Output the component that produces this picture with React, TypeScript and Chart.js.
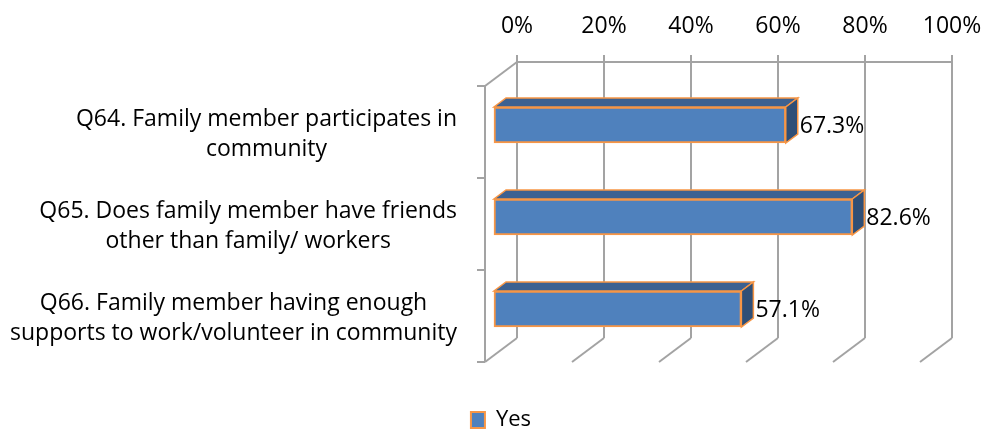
import React, { useEffect, useRef } from 'react';
import { Chart, registerables } from 'chart.js';

Chart.register(...registerables);

// ---- data ----
const categories: string[][] = [
  ['Q64. Family member participates in', 'community'],
  ['Q65. Does family member have friends', 'other than family/ workers'],
  ['Q66. Family member having enough', 'supports to work/volunteer in community'],
];
const seriesName = 'Yes';
const yesValues = [67.3, 82.6, 57.1];
const axisMin = 0;
const axisMax = 100;
const axisStep = 20;

// ---- style ----
const FONT = '"Open Sans"';
const FONT_SIZE = 23;
const GRID = '#a3a3a3';
const BAR_FRONT = '#4f81bd';
const BAR_TOP = '#3c6191';
const BAR_SIDE = '#2f4f77';
const BAR_EDGE = '#f79646';
const DEPTH_X = -32;
const DEPTH_Y = 24;
const BAR_SHIFT_X = -24;
const BAR_SHIFT_Y = 17;
const BAR_DEPTH_X = 12;
const BAR_DEPTH_Y = -9;

function line(ctx: CanvasRenderingContext2D, x1: number, y1: number, x2: number, y2: number) {
  ctx.beginPath();
  ctx.moveTo(x1, y1);
  ctx.lineTo(x2, y2);
  ctx.stroke();
}

const threeDPlugin = {
  id: 'threeD',
  beforeDatasetsDraw(chart: any) {
    const { ctx, chartArea, scales } = chart;
    const xs = scales.x;
    const ys = scales.y;
    const { top, bottom } = chartArea;
    ctx.save();
    ctx.strokeStyle = GRID;
    ctx.lineWidth = 2;
    const x0 = xs.getPixelForValue(axisMin);
    // side wall top edge
    line(ctx, x0, top, x0 + DEPTH_X, top + DEPTH_Y);
    // floor diagonals
    for (let v = axisMin; v <= axisMax; v += axisStep) {
      const px = xs.getPixelForValue(v);
      line(ctx, px, bottom, px + DEPTH_X, bottom + DEPTH_Y);
    }
    // front category axis
    const fx = x0 + DEPTH_X;
    line(ctx, fx, top + DEPTH_Y, fx, bottom + DEPTH_Y);
    const n = categories.length;
    const bounds: number[] = [top];
    for (let i = 0; i < n - 1; i++) {
      bounds.push((ys.getPixelForValue(i) + ys.getPixelForValue(i + 1)) / 2);
    }
    bounds.push(bottom);
    bounds.forEach((b) => line(ctx, fx - 8, b + DEPTH_Y, fx, b + DEPTH_Y));
    ctx.restore();
  },
  beforeDatasetDraw(chart: any) {
    chart.ctx.save();
    chart.ctx.translate(BAR_SHIFT_X, BAR_SHIFT_Y);
  },
  afterDatasetDraw(chart: any, args: any) {
    const ctx: CanvasRenderingContext2D = chart.ctx;
    const meta = args.meta;
    const values = chart.data.datasets[meta.index].data as number[];
    meta.data.forEach((el: any, i: number) => {
      const { x, y, base, height } = el.getProps(['x', 'y', 'base', 'height'], true);
      const l = Math.min(x, base);
      const r = Math.max(x, base);
      const t = y - height / 2;
      const b = y + height / 2;
      ctx.lineWidth = 1.5;
      ctx.strokeStyle = BAR_EDGE;
      // top face
      ctx.beginPath();
      ctx.moveTo(l, t);
      ctx.lineTo(r, t);
      ctx.lineTo(r + BAR_DEPTH_X, t + BAR_DEPTH_Y);
      ctx.lineTo(l + BAR_DEPTH_X, t + BAR_DEPTH_Y);
      ctx.closePath();
      ctx.fillStyle = BAR_TOP;
      ctx.fill();
      ctx.stroke();
      // side face
      ctx.beginPath();
      ctx.moveTo(r, t);
      ctx.lineTo(r + BAR_DEPTH_X, t + BAR_DEPTH_Y);
      ctx.lineTo(r + BAR_DEPTH_X, b + BAR_DEPTH_Y);
      ctx.lineTo(r, b);
      ctx.closePath();
      ctx.fillStyle = BAR_SIDE;
      ctx.fill();
      ctx.stroke();
      // value label
      ctx.fillStyle = '#000';
      ctx.font = `${FONT_SIZE}px ${FONT}`;
      ctx.textAlign = 'left';
      ctx.textBaseline = 'middle';
      ctx.fillText(`${values[i].toFixed(1)}%`, r + BAR_DEPTH_X + 2, y + 1);
    });
    ctx.restore();
  },
  afterDraw(chart: any) {
    const { ctx, scales } = chart;
    const ys = scales.y;
    ctx.save();
    ctx.font = `${FONT_SIZE}px ${FONT}`;
    ctx.fillStyle = '#000';
    ctx.textAlign = 'center';
    ctx.textBaseline = 'alphabetic';
    const blockRight = 457;
    categories.forEach((lines, i) => {
      const cy = ys.getPixelForValue(i);
      const widest = Math.max(...lines.map((s) => ctx.measureText(s).width));
      const cx = blockRight - widest / 2;
      lines.forEach((s, k) => {
        ctx.fillText(s, cx, cy + 18 + k * 30);
      });
    });
    ctx.restore();
  },
};

export default function App() {
  const ref = useRef<HTMLCanvasElement>(null);
  useEffect(() => {
    document.body.style.margin = '0';
    const canvas = ref.current!;
    const chart = new Chart(canvas, {
      type: 'bar',
      data: {
        labels: categories,
        datasets: [
          {
            label: seriesName,
            data: yesValues,
            backgroundColor: BAR_FRONT,
            borderColor: BAR_EDGE,
            borderWidth: 2,
            borderSkipped: false,
            barThickness: 36,
            clip: false as any,
          },
        ],
      },
      options: {
        indexAxis: 'y',
        responsive: false,
        animation: false,
        events: [],
        layout: { padding: { left: 18, right: 0, top: 0, bottom: -10 } },
        scales: {
          x: {
            position: 'top',
            min: axisMin,
            max: axisMax,
            ticks: {
              stepSize: axisStep,
              callback: (v: any) => `${v}%`,
              color: '#000',
              font: { family: FONT, size: FONT_SIZE },
              padding: 15,
              maxRotation: 0,
            },
            grid: { color: GRID, lineWidth: 2, tickLength: 7, drawTicks: true },
            border: { color: GRID, width: 2 },
            afterFit: (s: any) => {
              s.height = 62;
              s.paddingLeft = 0;
              s.paddingRight = 0;
            },
          },
          y: {
            position: 'left',
            ticks: { display: false },
            grid: { display: false },
            border: { display: false },
            afterFit: (s: any) => {
              s.width = 499;
            },
          },
          yRight: {
            type: 'linear',
            position: 'right',
            display: true,
            ticks: { display: false },
            grid: { display: false },
            border: { display: false },
            afterFit: (s: any) => {
              s.width = 32;
            },
          },
        },
        plugins: {
          legend: {
            display: true,
            position: 'bottom',
            labels: {
              color: '#000',
              font: { family: FONT, size: 22 },
              boxWidth: 14,
              boxHeight: 16,
              padding: 71,
            },
          },
          tooltip: { enabled: false },
          title: { display: false },
        },
      },
      plugins: [threeDPlugin],
    });
    return () => chart.destroy();
  }, []);
  return <canvas ref={ref} width={984} height={431} style={{ display: 'block' }} />;
}
